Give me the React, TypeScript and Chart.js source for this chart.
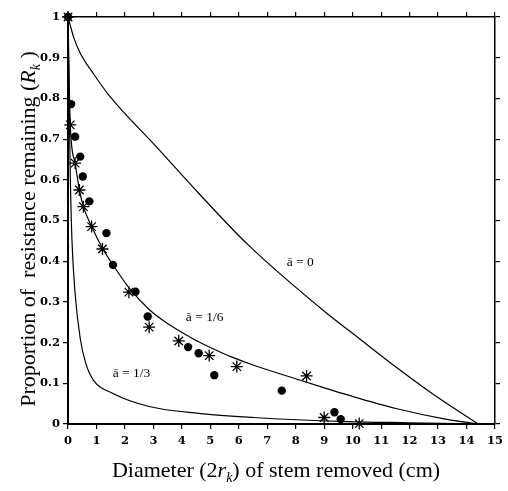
import React, { useEffect, useRef } from "react";
import { Chart, registerables } from "chart.js";

Chart.register(...registerables);

// ---- data ----
const curveA0: [number, number][] = [
  [0, 1], [0.2, 0.95], [0.43, 0.911], [0.9, 0.86], [1.47, 0.805], [3.09, 0.682], [4.59, 0.567],
  [6.33, 0.44], [9.09, 0.272], [10.14, 0.215], [11.52, 0.14], [12.79, 0.075], [14.41, 0],
];
const curveA16: [number, number][] = [
  [0, 1], [0.08, 0.735], [0.25, 0.641], [0.4, 0.575], [0.54, 0.534], [0.83, 0.485],
  [1.21, 0.432], [1.58, 0.391], [2.16, 0.333], [2.87, 0.28], [3.43, 0.25], [4.13, 0.22],
  [4.59, 0.202], [5.4, 0.175], [5.74, 0.165], [6.5, 0.145], [8.05, 0.11], [9.09, 0.087],
  [9.79, 0.072], [11.52, 0.038], [13.26, 0.012], [14.41, 0],
];
const curveA13: [number, number][] = [
  [0, 1], [0.02, 0.9], [0.05, 0.75], [0.08, 0.61], [0.14, 0.45], [0.25, 0.32], [0.43, 0.21],
  [0.62, 0.15], [0.89, 0.108], [1.58, 0.075], [2.85, 0.043], [4.59, 0.026], [6.5, 0.016],
  [9.79, 0.006], [12, 0.003], [14.41, 0],
];
const dotX = [0, 0.11, 0.25, 0.43, 0.52, 0.75, 1.35, 1.58, 2.37, 2.8, 4.22, 4.59, 5.14, 7.51, 9.36, 9.58];
const dotY = [1, 0.786, 0.706, 0.657, 0.608, 0.547, 0.469, 0.391, 0.325, 0.264, 0.189, 0.174, 0.12, 0.082, 0.029, 0.012];
const starX = [0, 0.08, 0.25, 0.4, 0.54, 0.83, 1.21, 2.14, 2.85, 3.89, 4.96, 5.93, 8.38, 9.0, 10.23];
const starY = [1, 0.735, 0.641, 0.575, 0.534, 0.485, 0.43, 0.324, 0.238, 0.204, 0.168, 0.141, 0.118, 0.016, 0.001];
const curveLabelText = ["ā = 0", "ā = 1/6", "ā = 1/3"];
const curveLabelX = [8.16, 4.8, 2.23];
const curveLabelY = [0.396, 0.263, 0.124];
const xTickValues = [0, 15, 1]; // min, max, step
const yTickValues = [0, 1, 0.1];

const TICK_FONT = { family: "'DejaVu Serif', serif", size: 11.5, weight: "bold" as const };

type Seg = { t: string; italic?: boolean; sub?: boolean };
const xTitle: Seg[] = [
  { t: "Diameter (2" }, { t: "r", italic: true }, { t: "k", italic: true, sub: true }, { t: ") of stem removed (cm)" },
];
const yTitle: Seg[] = [
  { t: "Proportion of  resistance remaining (" }, { t: "R", italic: true }, { t: "k", italic: true, sub: true }, { t: " )" },
];

function segFont(s: Seg) {
  const size = s.sub ? 14 : 22;
  return `${s.italic ? "italic " : ""}${size}px 'Liberation Serif', 'Times New Roman', serif`;
}
function drawSegs(ctx: CanvasRenderingContext2D, segs: Seg[], cx: number, baseline: number) {
  let total = 0;
  const widths = segs.map((s) => {
    ctx.font = segFont(s);
    const w = ctx.measureText(s.t).width;
    total += w;
    return w;
  });
  let x = cx - total / 2;
  ctx.textAlign = "left";
  ctx.textBaseline = "alphabetic";
  segs.forEach((s, i) => {
    ctx.font = segFont(s);
    ctx.fillText(s.t, x, baseline + (s.sub ? 5 : 0));
    x += widths[i];
  });
}

const annotPlugin = {
  id: "annot",
  afterDraw(chart: any) {
    const ctx: CanvasRenderingContext2D = chart.ctx;
    const xs = chart.scales.x;
    const ys = chart.scales.y;
    ctx.save();
    ctx.fillStyle = "#000";
    ctx.font = "13.5px 'Liberation Serif', 'Times New Roman', serif";
    ctx.textAlign = "center";
    ctx.textBaseline = "middle";
    curveLabelText.forEach((t, i) => {
      ctx.fillText(t, xs.getPixelForValue(curveLabelX[i]), ys.getPixelForValue(curveLabelY[i]));
    });
    drawSegs(ctx, xTitle, 276, 477);
    ctx.save();
    ctx.translate(34.5, 229);
    ctx.rotate(-Math.PI / 2);
    drawSegs(ctx, yTitle, 0, 0);
    ctx.restore();
    ctx.restore();
  },
};

function fmtY(v: number) {
  const r = Math.round(v * 10) / 10;
  if (r === 0) return "0";
  if (r === 1) return "1";
  return r.toFixed(1);
}

export default function App() {
  const ref = useRef<HTMLCanvasElement>(null);
  useEffect(() => {
    if (!ref.current) return;
    const lineDs = (pts: [number, number][]) => ({
      data: pts.map(([x, y]) => ({ x, y })),
      showLine: true,
      borderColor: "#000",
      borderWidth: 1.2,
      pointRadius: 0,
      cubicInterpolationMode: "monotone" as const,
      clip: false as any,
    });
    const gridOpts = { drawOnChartArea: false, drawTicks: true, tickLength: 5, color: "#000", lineWidth: 1.2 };
    const chart = new Chart(ref.current, {
      type: "scatter",
      data: {
        datasets: [
          lineDs(curveA0),
          lineDs(curveA16),
          lineDs(curveA13),
          {
            data: dotX.map((x, i) => ({ x, y: dotY[i] })),
            pointStyle: "circle",
            pointRadius: 4.2,
            backgroundColor: "#000",
            borderColor: "#000",
            borderWidth: 0,
            clip: false as any,
          },
          {
            data: starX.map((x, i) => ({ x, y: starY[i] })),
            pointStyle: "star",
            pointRadius: 6,
            backgroundColor: "#000",
            borderColor: "#000",
            borderWidth: 1.3,
            clip: false as any,
          },
        ],
      },
      options: {
        animation: false,
        responsive: false,
        devicePixelRatio: 1,
        layout: { padding: 0 },
        plugins: { legend: { display: false }, tooltip: { enabled: false }, title: { display: false } },
        events: [],
        scales: {
          x: {
            type: "linear",
            position: "bottom",
            min: xTickValues[0],
            max: xTickValues[1],
            ticks: { stepSize: xTickValues[2], color: "#000", font: TICK_FONT, padding: 5, maxRotation: 0, autoSkip: false },
            grid: gridOpts,
            border: { display: true, color: "#000", width: 2 },
            afterFit: (s: any) => { s.height = 67; },
          },
          x2: {
            type: "linear",
            position: "top",
            min: xTickValues[0],
            max: xTickValues[1],
            ticks: { stepSize: xTickValues[2], display: false, autoSkip: false },
            grid: gridOpts,
            border: { display: true, color: "#000", width: 1.5 },
            afterFit: (s: any) => { s.height = 17; },
          },
          y: {
            type: "linear",
            position: "left",
            min: yTickValues[0],
            max: yTickValues[1],
            ticks: { stepSize: yTickValues[2], color: "#000", font: TICK_FONT, padding: 3, callback: (v: any) => fmtY(Number(v)), autoSkip: false },
            grid: gridOpts,
            border: { display: true, color: "#000", width: 2 },
            afterFit: (s: any) => { s.width = 68; },
          },
          y2: {
            type: "linear",
            position: "right",
            min: yTickValues[0],
            max: yTickValues[1],
            ticks: { stepSize: yTickValues[2], display: false, autoSkip: false },
            grid: gridOpts,
            border: { display: true, color: "#000", width: 1.5 },
            afterFit: (s: any) => { s.width = 8; },
          },
        },
      } as any,
      plugins: [annotPlugin],
    });
    return () => chart.destroy();
  }, []);
  return (
    <div style={{ position: "fixed", left: 0, top: 0, width: 508, height: 491, background: "#fff" }}>
      <canvas ref={ref} width={508} height={491} style={{ width: 508, height: 491, display: "block" }} />
    </div>
  );
}
